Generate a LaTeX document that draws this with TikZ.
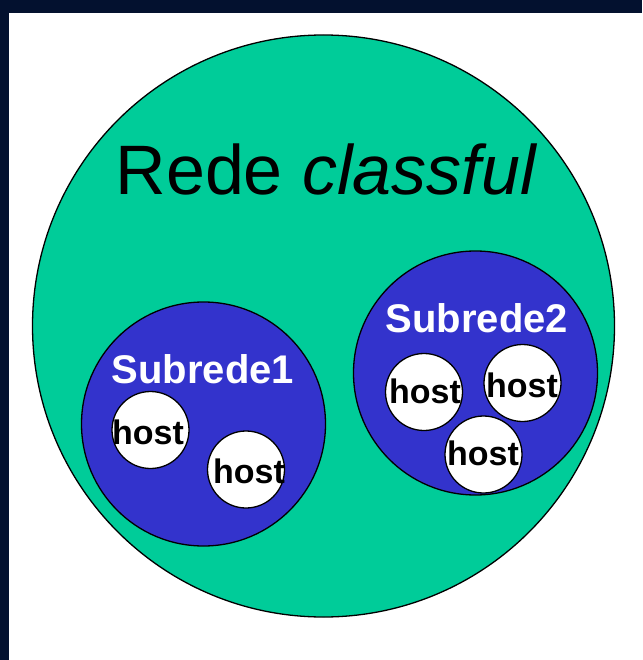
\documentclass[tikz,border=0pt]{standalone}
\usepackage{fontspec}
\setmainfont{Liberation Sans}
\definecolor{navy}{HTML}{03112F}
\definecolor{netgreen}{HTML}{00CC99}
\definecolor{subblue}{HTML}{3333CC}
\tikzset{
  net/.style={circle, draw=black, line width=1.3pt, fill=netgreen, inner sep=0pt, minimum size=582pt},
  subnet/.style={circle, draw=black, line width=1.3pt, fill=subblue, inner sep=0pt, minimum size=244pt},
  hostc/.style={circle, draw=black, line width=1.3pt, fill=white, inner sep=0pt, minimum size=77pt},
  hosttxt/.style={anchor=base, inner sep=0pt, font=\bfseries\fontsize{34}{40}\selectfont},
  subtxt/.style={anchor=base, inner sep=0pt, text=white, font=\bfseries\fontsize{40}{48}\selectfont},
  titletxt/.style={anchor=base, inner sep=0pt, font=\fontsize{70}{84}\selectfont}
}
\begin{document}
\begin{tikzpicture}[x=1pt,y=-1pt]
\useasboundingbox (0,0) rectangle (642,660);
\fill[white] (0,0) rectangle (642,660);
\fill[navy] (0,0) rectangle (642,13);
\fill[navy] (0,0) rectangle (9,660);
\node[net] (big) at (323.5,326) {};
\node[titletxt] (title) at (326.5,195) {Rede \textit{classful}};
\node[subnet] (s1) at (203.5,424) {};
\node[subnet] (s2) at (475.5,373) {};
\node[subtxt] (s1t) at (203,383) {Subrede1};
\node[subtxt] (s2t) at (477,332) {Subrede2};
\node[hostc] (h1) at (150.5,430) {};
\node[hostc] (h2) at (246,469.5) {};
\node[hostc] (h3) at (424,392) {};
\node[hostc] (h4) at (522.5,383) {};
\node[hostc] (h5) at (483.5,454.5) {};
\node[hosttxt] (h1t) at (148,444) {host};
\node[hosttxt] (h2t) at (249,483) {host};
\node[hosttxt] (h3t) at (425,403) {host};
\node[hosttxt] (h4t) at (522,397) {host};
\node[hosttxt] (h5t) at (483,465) {host};
\end{tikzpicture}
\end{document}
